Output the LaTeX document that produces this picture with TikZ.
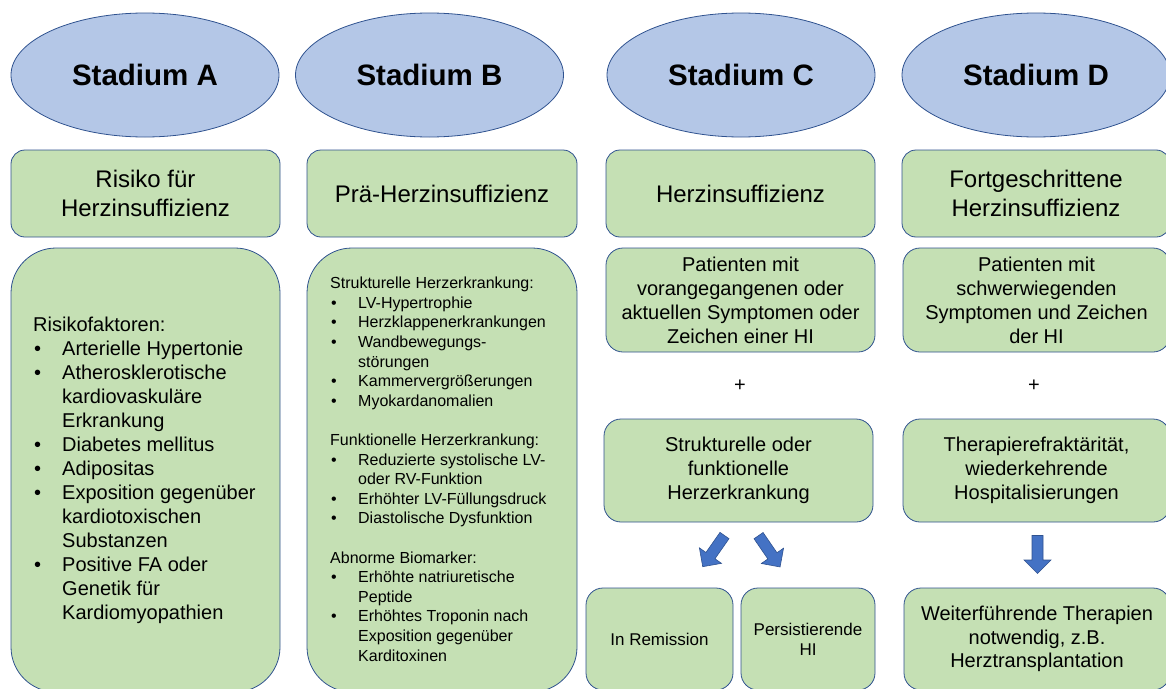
\documentclass[tikz,border=0pt]{standalone}
\usepackage{fontspec}
\setmainfont{Liberation Sans}
\usetikzlibrary{shapes.geometric}
\definecolor{ellfill}{HTML}{B4C7E7}
\definecolor{boxfill}{HTML}{C5E0B4}
\definecolor{bord}{HTML}{2F528F}
\definecolor{arrfill}{HTML}{4472C4}
\begin{document}
\begin{tikzpicture}[x=1pt,y=-1pt,
  stage/.style={ellipse, draw=bord, line width=0.8pt, fill=ellfill, minimum width=268pt, minimum height=124pt, inner sep=0pt, font=\fontsize{29.5}{35}\selectfont\bfseries},
  gbox/.style={rectangle, draw=bord, line width=0.8pt, fill=boxfill, align=center, inner sep=0pt},
  ttl/.style={gbox, minimum height=87pt, rounded corners=14pt, font=\fontsize{24}{29}\selectfont},
  mid/.style={gbox, minimum height=104pt, rounded corners=17pt, font=\fontsize{20}{24}\selectfont},
  big/.style={gbox, minimum height=444pt, rounded corners=45pt},
  low/.style={gbox, minimum height=102pt, rounded corners=17pt},
  plus/.style={inner sep=0pt, font=\fontsize{20}{24}\selectfont},
  listA/.style={anchor=west, inner sep=0pt, font=\fontsize{20}{24}\selectfont, align=left},
  listB/.style={anchor=west, inner sep=0pt, font=\fontsize{16}{19.6}\selectfont, align=left},
  blockarrow/.pic={\draw[fill=arrfill, draw=bord, line width=0.6pt]
     (-19,-5.5) -- (5.5,-5.5) -- (5.5,-13.5) -- (19,0) -- (5.5,13.5) -- (5.5,5.5) -- (-19,5.5) -- cycle;}
]
\clip (0,0) rectangle (1166,688);

% stage ellipses
\node[stage] (sA) at (145,75) {Stadium A};
\node[stage] (sB) at (429.5,75) {Stadium B};
\node[stage] (sC) at (741,75) {Stadium C};
\node[stage] (sD) at (1036,75) {Stadium D};

% title boxes
\node[ttl, minimum width=269pt] (tA) at (145.5,193.5) {Risiko für\\Herzinsuffizienz};
\node[ttl, minimum width=270pt] (tB) at (442,193.5) {Prä-Herzinsuffizienz};
\node[ttl, minimum width=269pt] (tC) at (740.5,193.5) {Herzinsuffizienz};
\node[ttl, minimum width=268pt] (tD) at (1036,193.5) {Fortgeschrittene\\Herzinsuffizienz};

% column A
\node[big, minimum width=269pt] (bA) at (145.5,470) {};
\node[listA] (txA) at (33,471) {\begin{tabular}{@{}l@{}l@{}}
\multicolumn{2}{@{}l@{}}{Risikofaktoren:}\\
\makebox[29pt][l]{\hspace{1pt}•}&Arterielle Hypertonie\\
\makebox[29pt][l]{\hspace{1pt}•}&Atherosklerotische\\
&kardiovaskuläre\\
&Erkrankung\\
\makebox[29pt][l]{\hspace{1pt}•}&Diabetes mellitus\\
\makebox[29pt][l]{\hspace{1pt}•}&Adipositas\\
\makebox[29pt][l]{\hspace{1pt}•}&Exposition gegenüber\\
&kardiotoxischen\\
&Substanzen\\
\makebox[29pt][l]{\hspace{1pt}•}&Positive FA oder\\
&Genetik für\\
&Kardiomyopathien
\end{tabular}};

% column B
\node[big, minimum width=270pt] (bB) at (442,470) {};
\node[listB] (txB) at (330,471) {\begin{tabular}{@{}l@{}l@{}}
\multicolumn{2}{@{}l@{}}{Strukturelle Herzerkrankung:}\\
\makebox[28pt][l]{\hspace{1pt}•}&LV-Hypertrophie\\
\makebox[28pt][l]{\hspace{1pt}•}&Herzklappenerkrankungen\\
\makebox[28pt][l]{\hspace{1pt}•}&Wandbewegungs-\\
&störungen\\
\makebox[28pt][l]{\hspace{1pt}•}&Kammervergrößerungen\\
\makebox[28pt][l]{\hspace{1pt}•}&Myokardanomalien\\
&\\
\multicolumn{2}{@{}l@{}}{Funktionelle Herzerkrankung:}\\
\makebox[28pt][l]{\hspace{1pt}•}&Reduzierte systolische LV-\\
&oder RV-Funktion\\
\makebox[28pt][l]{\hspace{1pt}•}&Erhöhter LV-Füllungsdruck\\
\makebox[28pt][l]{\hspace{1pt}•}&Diastolische Dysfunktion\\
&\\
\multicolumn{2}{@{}l@{}}{Abnorme Biomarker:}\\
\makebox[28pt][l]{\hspace{1pt}•}&Erhöhte natriuretische\\
&Peptide\\
\makebox[28pt][l]{\hspace{1pt}•}&Erhöhtes Troponin nach\\
&Exposition gegenüber\\
&Karditoxinen
\end{tabular}};

% column C
\node[mid, minimum width=269pt] (pC) at (740.5,300) {Patienten mit\\vorangegangenen oder\\aktuellen Symptomen oder\\Zeichen einer HI};
\node[plus] (plusC) at (740,386) {+};
\node[mid, minimum width=269pt, minimum height=103pt] (fC) at (738.5,470.5) {Strukturelle oder\\funktionelle\\Herzerkrankung};
\pic[rotate=235] at (713.6,551.1) {blockarrow};
\pic[rotate=-55.5] at (769.3,551.3) {blockarrow};
\node[low, minimum width=147pt, font=\fontsize{17}{20}\selectfont] (remC) at (659.5,639) {In Remission};
\node[low, minimum width=134pt, font=\fontsize{17}{20}\selectfont] (persC) at (808,639) {Persistierende\\HI};

% column D
\node[mid, minimum width=267pt] (pD) at (1036.5,300) {Patienten mit\\schwerwiegenden\\Symptomen und Zeichen\\der HI};
\node[plus] (plusD) at (1034,386) {+};
\node[mid, minimum width=267pt, minimum height=103pt] (fD) at (1036.5,470.5) {Therapierefraktärität,\\wiederkehrende\\Hospitalisierungen};
\pic[rotate=270] at (1037.5,554.5) {blockarrow};
\node[low, minimum width=266pt, font=\fontsize{20}{23.5}\selectfont] (advD) at (1037,639) {Weiterführende Therapien\\notwendig, z.B.\\Herztransplantation};
\end{tikzpicture}
\end{document}
